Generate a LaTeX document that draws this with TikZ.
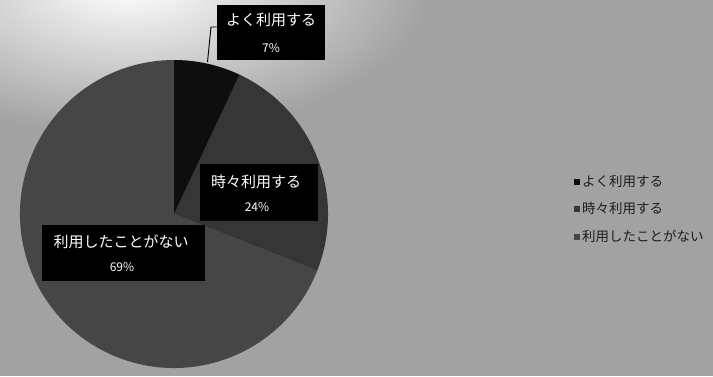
\documentclass[tikz,border=0pt]{standalone}
\usepackage{fontspec}
\newfontfamily\jpfont{Noto Sans CJK JP}
\definecolor{bgcol}{HTML}{A2A2A2}
\definecolor{pieA}{HTML}{0E0E0E}
\definecolor{pieB}{HTML}{363636}
\definecolor{pieC}{HTML}{464646}
\definecolor{legtext}{HTML}{1E1E1E}
\tikzset{
  bigtxt/.style={font=\jpfont\fontsize{15}{17}\selectfont},
  pcttxt/.style={font=\jpfont\fontsize{12}{14}\selectfont},
  legsq/.style={minimum size=6pt, inner sep=0pt},
  legtx/.style={font=\jpfont\fontsize{13.5}{15}\selectfont, text=legtext, anchor=west, inner sep=0pt},
  leader/.style={draw=black, line width=0.9pt}
}
\begin{document}
\begin{tikzpicture}[x=1pt,y=1pt]
\useasboundingbox (0,0) rectangle (713,-376);
\fill[bgcol] (0,0) rectangle (713,-376);
\begin{scope}
\clip (0,0) rectangle (713,-376);
\shade[inner color=white, outer color=bgcol] (130,15) ellipse [x radius=300, y radius=150];
\end{scope}
% pie
\coordinate (c) at (174,-214);
\fill[pieC] (c) -- ++(-21.6:154) arc[start angle=-21.6, end angle=-270, radius=154] -- cycle;
\fill[pieB] (c) -- ++(64.8:154) arc[start angle=64.8, end angle=-21.6, radius=154] -- cycle;
\fill[pieA] (c) -- ++(90:154) arc[start angle=90, end angle=64.8, radius=154] -- cycle;
% label boxes
\fill[black] (217,-5) rectangle (325,-60);
\node[bigtxt, text=white] (t1) at (271,-20) {よく利用する};
\node[pcttxt, text=white] (p1) at (271,-48) {7\%};
\coordinate (b1) at (217,-27);
\coordinate (e1) at (207.5,-62);
\draw[leader] (b1) -- (211,-27) -- (e1);
\fill[black] (200,-164) rectangle (318,-221);
\node[bigtxt, text=white] (t2) at (256,-182) {時々利用する};
\node[pcttxt, text=white] (p2) at (257,-207) {24\%};
\fill[black] (42,-225) rectangle (205,-281);
\node[bigtxt, text=white] (t3) at (121,-242) {利用したことがない};
\node[pcttxt, text=white] (p3) at (122,-267) {69\%};
% legend
\node[legsq, fill=pieA] (s1) at (577,-182) {};
\node[legtx] (l1) at (582,-181) {よく利用する};
\node[legsq, fill=pieB] (s2) at (577,-209) {};
\node[legtx] (l2) at (582,-208) {時々利用する};
\node[legsq, fill=pieC] (s3) at (577,-237) {};
\node[legtx] (l3) at (582,-236) {利用したことがない};
\end{tikzpicture}
\end{document}
